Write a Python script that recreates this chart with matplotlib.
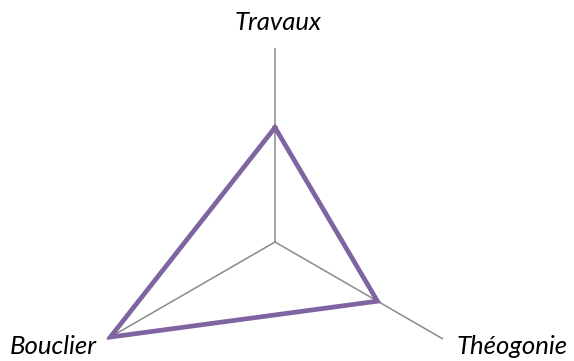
"""Radar chart: Travaux / Théogonie / Bouclier."""

import matplotlib

matplotlib.use("Agg")
import matplotlib.pyplot as plt
import numpy as np


CATEGORIES = ["Travaux", "Théogonie", "Bouclier"]
VALUES = [59, 61, 98]
MAX_VALUE = 100

LINE_COLOR = "#8064A2"
AXIS_COLOR = "#8a8a8a"


def main() -> int:
    fig = plt.figure(figsize=(5.74, 3.61), dpi=100)
    # polar axes centred at (275, 242) px with a 194 px radius
    ax = fig.add_axes([81 / 574, -75 / 361, 388 / 574, 388 / 361], projection="polar")
    ax.set_theta_offset(np.pi / 2)
    ax.set_theta_direction(-1)

    angles = np.linspace(0, 2 * np.pi, len(CATEGORIES), endpoint=False)

    for angle in angles:
        ax.plot([angle, angle], [0, MAX_VALUE], color=AXIS_COLOR, linewidth=1.1, zorder=1)

    closed_angles = np.append(angles, angles[0])
    closed_values = VALUES + VALUES[:1]
    ax.plot(closed_angles, closed_values, color=LINE_COLOR, linewidth=3.4,
            solid_joinstyle="miter", zorder=3)

    ax.set_ylim(0, MAX_VALUE)
    ax.set_xticks([])
    ax.set_yticks([])
    ax.grid(False)
    ax.spines["polar"].set_visible(False)
    ax.patch.set_alpha(0)

    label_style = dict(fontsize=18.5, style="italic", family="Lato", color="black")
    fig.text(278 / 574, 1 - 22 / 361, CATEGORIES[0], ha="center", va="center", **label_style)
    fig.text(457 / 574, 1 - 346 / 361, CATEGORIES[1], ha="left", va="center", **label_style)
    fig.text(97 / 574, 1 - 346 / 361, CATEGORIES[2], ha="right", va="center", **label_style)

    fig.savefig("out.png", dpi=100)
    plt.close(fig)
    return 0


if __name__ == "__main__":
    raise SystemExit(main())
